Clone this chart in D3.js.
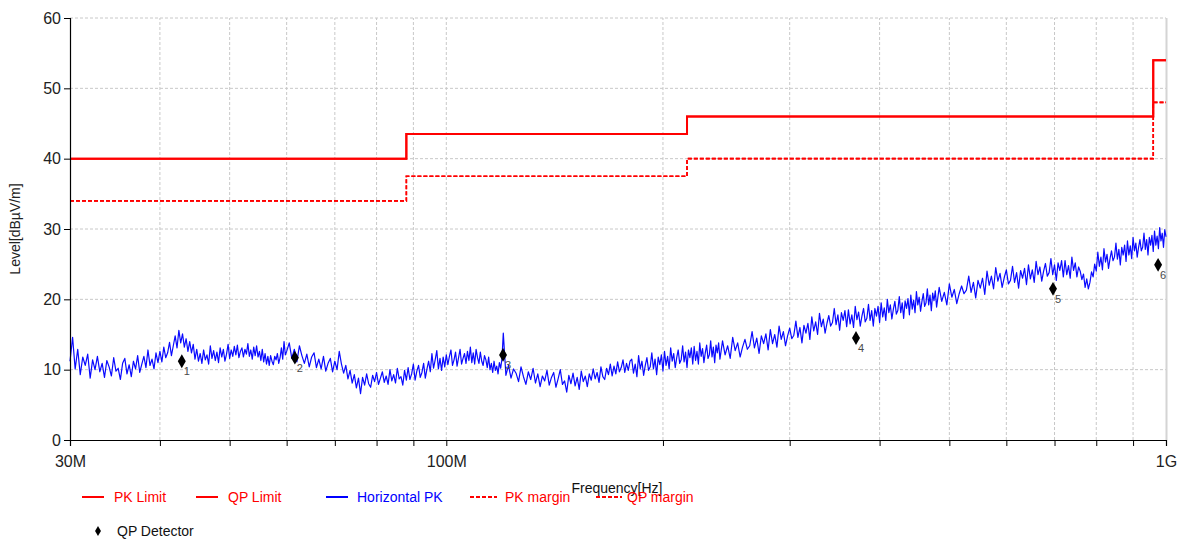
<!DOCTYPE html>
<html>
<head>
<meta charset="utf-8">
<script src="https://cdn.jsdelivr.net/npm/d3@7"></script>
<style>
  html, body { margin: 0; padding: 0; background: #fff; }
  svg { display: block; }
  text { font-family: "Liberation Sans", Arial, sans-serif; }
</style>
</head>
<body>
<svg id="chart" width="1181" height="541"></svg>
<script>
// ---------- DATA ----------
const traceFreqMHz = [
  30,30.25,30.5,30.75,31,31.25,31.5,31.75,32,32.25,32.5,32.75,33,33.25,33.5,33.75,34,34.25,34.5,34.75,
  35,35.25,35.5,35.75,36,36.25,36.5,36.75,37,37.25,37.5,37.75,38,38.25,38.5,38.75,39,39.25,39.5,39.75,
  40,40.25,40.5,40.75,41,41.25,41.5,41.75,42,42.25,42.5,42.75,43,43.25,43.5,43.75,44,44.25,44.5,44.75,
  45,45.25,45.5,45.75,46,46.25,46.5,46.75,47,47.25,47.5,47.75,48,48.25,48.5,48.75,49,49.25,49.5,49.75,
  50,50.25,50.5,50.75,51,51.25,51.5,51.75,52,52.25,52.5,52.75,53,53.25,53.5,53.75,54,54.25,54.5,54.75,
  55,55.25,55.5,55.75,56,56.25,56.5,56.75,57,57.25,57.5,57.75,58,58.25,58.5,58.75,59,59.25,59.5,59.75,60,
  60.5,61,61.5,62,62.5,63,63.5,64,64.5,65,65.5,66,66.5,67,67.5,68,68.5,69,69.5,70,
  70.5,71,71.5,72,72.5,73,73.5,74,74.5,75,75.5,76,76.5,77,77.5,78,78.5,79,79.5,80,
  80.5,81,81.5,82,82.5,83,83.5,84,84.5,85,85.5,86,86.5,87,87.5,88,88.5,89,89.5,90,
  90.5,91,91.5,92,92.5,93,93.5,94,94.5,95,95.5,96,96.5,97,97.5,98,98.5,99,99.5,100,
  100.5,101,101.5,102,102.5,103,103.5,104,104.5,105,105.5,106,106.5,107,107.5,108,108.5,109,109.5,110,
  110.5,111,111.5,112,112.5,113,113.5,114,114.5,115,115.5,116,116.5,117,117.5,118,118.5,119,119.5,120,
  121,122,123,124,125,126,127,128,129,130,131,132,133,134,135,136,137,138,139,140,
  141,142,143,144,145,146,147,148,149,150,151,152,153,154,155,156,157,158,159,160,
  161,162,163,164,165,166,167,168,169,170,171,172,173,174,175,176,177,178,179,180,
  181,182,183,184,185,186,187,188,189,190,191,192,193,194,195,196,197,198,199,200,
  201,202,203,204,205,206,207,208,209,210,211,212,213,214,215,216,217,218,219,220,
  221,222,223,224,225,226,227,228,229,230,231,232,233,234,235,236,237,238,239,240,
  242,244,246,248,250,252,254,256,258,260,262,264,266,268,270,272,274,276,278,280,
  282,284,286,288,290,292,294,296,298,300,302,304,306,308,310,312,314,316,318,320,
  322,324,326,328,330,332,334,336,338,340,342,344,346,348,350,352,354,356,358,360,
  362,364,366,368,370,372,374,376,378,380,382,384,386,388,390,392,394,396,398,400,
  402,404,406,408,410,412,414,416,418,420,422,424,426,428,430,432,434,436,438,440,
  442,444,446,448,450,452,454,456,458,460,462,464,466,468,470,472,474,476,478,480,
  484,488,492,496,500,504,508,512,516,520,524,528,532,536,540,544,548,552,556,560,
  564,568,572,576,580,584,588,592,596,600,604,608,612,616,620,624,628,632,636,640,
  644,648,652,656,660,664,668,672,676,680,684,688,692,696,700,704,708,712,716,720,
  724,728,732,736,740,744,748,752,756,760,764,768,772,776,780,784,788,792,796,800,
  804,808,812,816,820,824,828,832,836,840,844,848,852,856,860,864,868,872,876,880,
  884,888,892,896,900,904,908,912,916,920,924,928,932,936,940,944,948,952,956,960,
  964,968,972,976,980,984,988,992,996,1000
];
const traceLevel = [
  11.2,14.6,10.1,12.9, 9.3,11.8,10.6,12.2, 8.8,11.4,10.0,11.9, 9.7,10.9,8.9,11.3, 10.4,9.1,11.7,9.8,
  10.2,8.6,10.9,11.6, 9.4,10.7,9.0,11.2, 10.1,12.0,9.6,10.8, 11.9,10.3,12.8,10.6, 11.5,10.1,12.4,11.0,
  12.6,11.1,13.2,11.7, 12.4,13.9,12.0,13.4, 14.8,13.1,15.6,13.8, 15.1,13.2,14.4,12.6, 14.0,12.4,13.6,11.5,
  12.9,11.2,12.3,10.9, 12.8,11.4,12.1,10.8, 13.4,11.6,12.7,11.3, 12.5,11.0,13.1,11.8, 12.9,11.2,12.2,13.6,
  11.6,12.8,11.9,13.3, 12.1,13.5,11.7,12.6, 13.1,11.8,12.9,12.2, 13.7,11.9,12.8,11.5, 13.2,12.0,13.4,11.8,
  12.6,11.3,12.9,11.1, 12.3,10.8,11.9,10.6, 12.0,11.2,10.7,11.9, 11.4,12.3,10.9,11.7, 13.1,11.5,14.0,12.1, 12.6,
  13.8,11.6, 12.9,11.1, 13.4,12.0, 10.9,12.2, 10.4,11.8, 12.4,10.3, 11.5,10.1, 11.9,9.8, 10.9,11.6, 9.7,11.2,
  10.0,12.6, 10.8,9.5, 10.6,8.7, 9.9,8.1, 9.3,7.4, 8.8,6.6, 8.9,7.8, 9.4,8.0, 7.5,9.2, 8.3,9.6,
  7.9,8.8, 9.7,8.2, 9.1,7.9, 10.0,8.4, 9.3,8.1, 10.2,8.7, 9.0,7.8, 9.9,8.5, 10.3,8.6, 9.4,10.8,
  8.5,9.8, 10.6,8.9, 9.6,10.9, 8.8,10.1, 11.2,9.7, 12.3,10.2, 11.4,12.7, 10.1,11.6, 9.9,11.8, 10.4,12.1,
  10.7,11.9, 12.8,10.6, 11.4,12.5, 10.5,11.7, 12.9,10.8, 11.6,12.3, 10.9,12.6, 11.3,13.2, 11.0,12.4, 10.8,12.9,
  11.7,10.9, 12.5,11.2, 10.6,12.0, 11.4,10.3, 11.8,10.0, 10.9,9.6, 11.2,9.9, 10.5,9.4, 11.0,10.2, 11.6,15.2,
  9.2,10.6,8.8,10.1,9.5,8.3,10.4,9.0,7.9,9.7,
  8.6,10.2,8.1,9.4,7.6,9.1,8.4,9.9,7.8,8.9,
  9.6,7.5,8.7,10.0,7.9,8.4,6.8,9.2,8.0,9.5,
  7.7,8.9,7.2,9.8,8.3,9.1,7.6,9.4,8.5,10.1,
  8.7,9.6,8.2,10.4,9.0,8.6,10.2,9.3,10.8,9.1,
  10.5,9.4,11.1,9.7,10.3,11.4,9.6,10.9,9.9,11.2,
  11.5,9.5,10.8,9.0,12.0,10.1,11.2,9.2,10.6,11.7,
  9.9,10.4,12.4,10.1,11.5,9.3,11.8,10.7,12.1,9.8,
  12.6,10.6,11.9,10.1,13.1,11.2,12.3,10.3,11.7,12.8,
  10.9,11.4,13.4,11.1,12.5,10.3,12.8,11.7,13.1,10.8,
  13.3,11.3,12.6,10.8,13.8,11.9,13.0,11.0,12.4,13.5,
  11.6,12.1,14.1,11.8,13.2,11.0,13.5,12.4,13.8,11.5,
  14.1,12.1,13.4,11.6,14.6,12.7,13.8,11.8,13.2,14.3,
  12.9,13.4,15.4,13.1,14.5,12.3,14.8,13.7,15.1,12.8,
  15.7,13.7,15.0,13.2,16.2,14.3,15.4,13.4,14.8,15.9,
  14.4,14.9,16.9,14.6,16.0,13.8,16.3,15.2,16.6,14.3,
  17.5,15.5,16.8,15.0,18.0,16.1,17.2,15.2,16.6,17.7,
  16.2,16.7,18.7,16.4,17.8,15.6,18.1,17.0,18.4,16.1,
  18.5,16.5,17.8,16.0,19.0,17.1,18.2,16.2,17.6,18.7,
  16.8,17.3,19.3,17.0,18.4,16.2,18.7,17.6,19.0,16.7,
  19.5,17.5,18.8,17.0,20.0,18.1,19.2,17.2,18.6,19.7,
  17.9,18.4,20.4,18.1,19.5,17.3,19.8,18.7,20.1,17.8,
  20.6,18.6,19.9,18.1,21.1,19.2,20.3,18.3,19.7,20.8,
  19.0,19.5,21.5,19.2,20.6,18.4,20.9,19.8,21.2,18.9,
  21.7,19.7,21.0,19.2,22.2,20.3,21.4,19.4,20.8,21.9,
  20.8,21.3,23.3,21.0,22.4,20.2,22.7,21.6,23.0,20.7,
  24.0,22.0,23.3,21.5,24.5,22.6,23.7,21.7,23.1,24.2,
  22.2,22.7,24.7,22.4,23.8,21.6,24.1,23.0,24.4,22.1,
  24.9,22.9,24.2,22.4,25.4,23.5,24.6,22.6,24.0,25.1,
  23.3,23.8,25.8,23.5,24.9,22.7,25.2,24.1,25.5,23.2,
  25.5,23.5,24.8,23.0,26.0,24.1,25.2,23.2,24.6,24.0,
  22.8,23.6,21.7,22.9,21.5,22.4,23.9,23.2,25.0,24.0,
  26.7,24.7,26.0,24.2,27.2,25.3,26.4,24.4,25.8,26.9,
  25.5,26.0,28.0,25.7,27.1,24.9,27.4,26.3,27.7,25.4,
  28.3,26.3,27.6,25.8,28.8,26.9,28.0,26.0,27.4,28.5,
  26.9,27.4,29.4,27.1,28.5,26.3,28.8,27.7,29.1,26.8,
  29.7,27.7,29.0,27.2,30.2,28.3,29.4,27.4,29.9,28.9
];

// Limit lines (step after each break frequency)
const limitFreqMHz = [30, 88, 216, 960, 1000];
const pkLimit   = [40, 43.5, 46, 54, 54];
const qpLimit   = [40, 43.5, 46, 54, 54];
const pkMargin  = [34, 37.5, 40, 48, 48];
const qpMargin  = [34, 37.5, 40, 48, 48];

// QP detector results
const qpFreqMHz = [42.9, 61.6, 119.9, 370.9, 696.6, 975];
const qpLevel   = [11.2, 11.7, 12.1, 14.5, 21.5, 24.9];
const qpLabels  = ["1", "2", "3", "4", "5", "6"];

// Axis ticks
const yTicks = [0, 10, 20, 30, 40, 50, 60];
const xGridMHz = [30,40,50,60,70,80,90,100,200,300,400,500,600,700,800,900,1000];
const xLabelMHz = [30, 100, 1000];
const xLabelText = ["30M", "100M", "1G"];

const legendItems = [
  {name: "PK Limit", color: "#ff0000", dash: null},
  {name: "QP Limit", color: "#ff0000", dash: null},
  {name: "Horizontal PK", color: "#0000ff", dash: null},
  {name: "PK margin", color: "#ff0000", dash: "4,2"},
  {name: "QP margin", color: "#ff0000", dash: "4,2"}
];

// ---------- CHART ----------
const svg = d3.select("#chart");
const x = d3.scaleLog().domain([30, 1000]).range([70, 1166]);
const y = d3.scaleLinear().domain([0, 60]).range([440, 18]);

// grid
const grid = svg.append("g");
grid.selectAll("line.h").data(yTicks.filter(d => d > 0)).enter().append("line")
  .attr("x1", x(30)).attr("x2", x(1000)).attr("y1", d => y(d)).attr("y2", d => y(d))
  .attr("stroke", "#c8c8c8").attr("stroke-width", 1).attr("stroke-dasharray", "3,2");
grid.selectAll("line.v").data(xGridMHz.filter(d => d > 30 && d < 1000)).enter().append("line")
  .attr("x1", d => x(d)).attr("x2", d => x(d)).attr("y1", y(0)).attr("y2", y(60))
  .attr("stroke", "#c8c8c8").attr("stroke-width", 1).attr("stroke-dasharray", "3,2");
// right border
svg.append("line").attr("x1", x(1000) + 0.5).attr("x2", x(1000) + 0.5).attr("y1", y(60)).attr("y2", y(0))
  .attr("stroke", "#d4d4d4").attr("stroke-width", 2);

// limits
const stepLine = (vals) => d3.line()
  .x((d, i) => x(limitFreqMHz[i])).y(d => y(d)).curve(d3.curveStepAfter)(vals);
svg.append("path").attr("d", stepLine(pkMargin)).attr("fill", "none")
  .attr("stroke", "#ff0000").attr("stroke-width", 1.6).attr("stroke-dasharray", "4,2");
svg.append("path").attr("d", stepLine(qpMargin)).attr("fill", "none")
  .attr("stroke", "#ff0000").attr("stroke-width", 1.6).attr("stroke-dasharray", "4,2");
svg.append("path").attr("d", stepLine(qpLimit)).attr("fill", "none")
  .attr("stroke", "#ff0000").attr("stroke-width", 2);
svg.append("path").attr("d", stepLine(pkLimit)).attr("fill", "none")
  .attr("stroke", "#ff0000").attr("stroke-width", 2);

// trace
const traceLine = d3.line().x((d, i) => x(traceFreqMHz[i])).y(d => y(d));
svg.append("path").attr("d", traceLine(traceLevel)).attr("fill", "none")
  .attr("stroke", "#0a0aff").attr("stroke-width", 1.2).attr("stroke-linejoin", "round");

// QP markers
const sym = d3.symbol().type(d3.symbolDiamond).size(55);
svg.selectAll("path.qp").data(qpLevel).enter().append("path")
  .attr("d", sym).attr("fill", "#000")
  .attr("transform", (d, i) => `translate(${x(qpFreqMHz[i])},${y(d)})`);
svg.selectAll("text.qp").data(qpLabels).enter().append("text")
  .attr("x", (d, i) => x(qpFreqMHz[i]) + 2).attr("y", (d, i) => y(qpLevel[i]) + 14)
  .attr("font-size", 11).attr("fill", "#4a4a4a").text(d => d);

// axes
const yAxis = svg.append("g").attr("transform", `translate(${x(30)},0)`)
  .call(d3.axisLeft(y).tickValues(yTicks).tickSize(6).tickPadding(3).tickFormat(d3.format("d")));
const xAxis = svg.append("g").attr("transform", `translate(0,${y(0)})`)
  .call(d3.axisBottom(x).tickValues(xGridMHz).tickSize(6).tickPadding(10)
    .tickFormat(d => { const k = xLabelMHz.indexOf(d); return k >= 0 ? xLabelText[k] : ""; }));
[yAxis, xAxis].forEach(g => {
  g.select(".domain").attr("stroke", "#000").attr("stroke-width", 1.2);
  g.selectAll(".tick line").attr("stroke", "#000");
  g.selectAll(".tick text").attr("font-size", 16).attr("fill", "#222")
    .attr("font-family", "'Liberation Sans', Arial, sans-serif");
});

// axis titles
svg.append("text").attr("transform", `translate(20,${(y(0) + y(60)) / 2}) rotate(-90)`)
  .attr("text-anchor", "middle").attr("font-size", 14).attr("fill", "#222").text("Level[dBµV/m]");
svg.append("text").attr("x", 617).attr("y", 493).attr("text-anchor", "middle")
  .attr("font-size", 14).attr("fill", "#111").text("Frequency[Hz]");

// legend
const legX = [82, 196, 326, 470, 596];
const legLen = [22, 22, 22, 27, 26];
const legTx = [114, 228, 357, 505, 627];
const leg = svg.append("g");
legendItems.forEach((it, i) => {
  leg.append("line").attr("x1", legX[i]).attr("x2", legX[i] + legLen[i]).attr("y1", 497).attr("y2", 497)
    .attr("stroke", it.color).attr("stroke-width", 2).attr("stroke-dasharray", it.dash);
  leg.append("text").attr("x", legTx[i]).attr("y", 502).attr("font-size", 14)
    .attr("fill", it.color).text(it.name);
});
leg.append("path").attr("d", d3.symbol().type(d3.symbolDiamond).size(30))
  .attr("transform", "translate(98,531)").attr("fill", "#000");
leg.append("text").attr("x", 117).attr("y", 536).attr("font-size", 14).attr("fill", "#111").text("QP Detector");
</script>
</body>
</html>
